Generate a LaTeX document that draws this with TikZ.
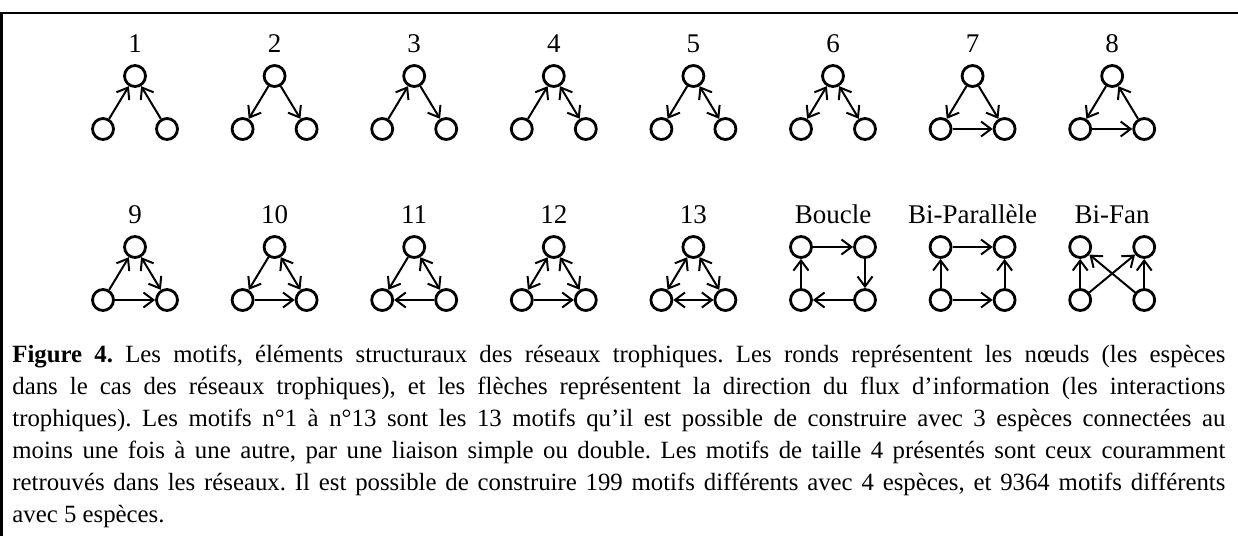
\documentclass[tikz,border=0pt]{standalone}
\usepackage{fontspec}
\setmainfont{Liberation Serif}
\usetikzlibrary{arrows.meta}

\tikzset{
  esp/.style={circle, draw, line width=1.4pt, minimum size=10.5pt, inner sep=0pt},
  fl/.style={line width=1pt, -{Straight Barb[length=5pt,width=7.5pt]}},
  fldb/.style={line width=1pt, {Straight Barb[length=5pt,width=7.5pt]}-{Straight Barb[length=5pt,width=7.5pt]}},
  titre/.style={anchor=base, font=\fontsize{13.5}{15}\selectfont},
}

\begin{document}
\begin{tikzpicture}[x=0.5pt,y=-0.5pt]
\useasboundingbox (0,0) rectangle (1238,536);
\def\dx{32};
\def\dy{53};
% cadre
\draw[line width=1.35pt] (1.5,536) -- (1.5,13) -- (1238,13);
% motifs a 3 especes : haut, gauche, droite
\foreach \i/\x/\y in {1/135/76, 2/274.6/76, 3/414.2/76, 4/553.8/76, 5/693.4/76, 6/833/76, 7/972.6/76, 8/1112.2/76,
                      9/135/247, 10/274.6/247, 11/414.2/247, 12/553.8/247, 13/693.4/247}{
  \node[esp] (h\i) at (\x,\y) {};
  \node[esp] (g\i) at (\x-\dx,\y+\dy) {};
  \node[esp] (d\i) at (\x+\dx,\y+\dy) {};
  \node[titre] (n\i) at (\x,\y-24) {\i};
}
% motifs a 4 especes
\foreach \i/\x/\t in {14/833/Boucle, 15/972.6/Bi-Parallèle, 16/1112.2/Bi-Fan}{
  \node[esp] (hg\i) at (\x-\dx,247) {};
  \node[esp] (hd\i) at (\x+\dx,247) {};
  \node[esp] (bg\i) at (\x-\dx,247+\dy) {};
  \node[esp] (bd\i) at (\x+\dx,247+\dy) {};
  \node[titre] (n\i) at (\x,223) {\t};
}
% liaisons simples
\foreach \a/\b in {g1/h1, d1/h1, h2/g2, h2/d2, g3/h3, h3/d3, g4/h4, h5/g5,
                   h7/g7, h7/d7, g7/d7, h8/g8, d8/h8, g8/d8, g9/h9, g9/d9,
                   h10/g10, g10/d10, h11/g11, d11/g11, g12/d12,
                   hg14/hd14, hd14/bd14, bd14/bg14, bg14/hg14,
                   hg15/hd15, bg15/hg15, bd15/hd15, bg15/bd15,
                   bg16/hg16, bd16/hd16, bg16/hd16, bd16/hg16}
  \draw[fl] (\a) -- (\b);
% liaisons doubles
\foreach \a/\b in {h4/d4, h5/d5, h6/g6, h6/d6, h9/d9, h10/d10, h11/d11,
                   h12/g12, h12/d12, h13/g13, h13/d13, g13/d13}
  \draw[fldb] (\a) -- (\b);
% legende
\node[anchor=north west, inner sep=0pt, text width=606.5pt, align=justify,
      font=\fontsize{12.4}{16}\selectfont] (leg) at (12,345)
 {\frenchspacing\hyphenpenalty=10000\exhyphenpenalty=10000
  \textbf{Figure 4.} Les motifs, éléments structuraux des réseaux trophiques. Les ronds représentent les nœuds (les espèces\linebreak
  dans le cas des réseaux trophiques), et les flèches représentent la direction du flux d’information (les interactions\linebreak
  trophiques). Les motifs n°1 à n°13 sont les 13 motifs qu’il est possible de construire avec 3 espèces connectées au\linebreak
  moins une fois à une autre, par une liaison simple ou double. Les motifs de taille 4 présentés sont ceux couramment\linebreak
  retrouvés dans les réseaux. Il est possible de construire 199 motifs différents avec 4 espèces, et 9364 motifs différents\linebreak
  avec 5 espèces.};
\end{tikzpicture}
\end{document}
